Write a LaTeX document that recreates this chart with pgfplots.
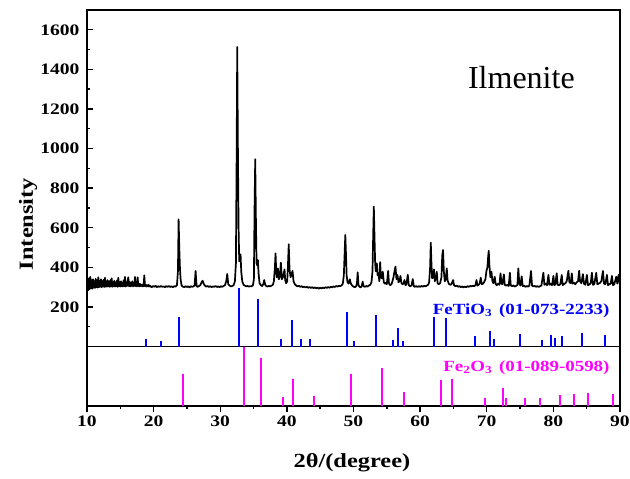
\documentclass[border=0pt]{standalone}
\usepackage{fontspec}
\setmainfont{Liberation Serif}
\newfontfamily\wide{Liberation Serif}[FakeStretch=1.22]
\usepackage{pgfplots}
\pgfplotsset{compat=1.18}
\definecolor{refblue}{RGB}{0,0,255}
\definecolor{refmag}{RGB}{255,0,255}
\begin{document}
\begin{tikzpicture}
\useasboundingbox (-87pt,-73pt) rectangle (543pt,406pt);
\pgfplotsset{
  common/.style={
    scale only axis, width=533pt, xmin=10, xmax=90,
    axis line style={line width=1.5pt},
    every tick/.style={line width=1.4pt, black},
    major tick length=6.5pt, minor tick length=3.5pt,
    /pgf/number format/assume math mode=true,
    /pgf/number format/1000 sep={},
    tick label style={font=\wide\bfseries\fontsize{16}{18}\selectfont},
    label style={font=\wide\bfseries\fontsize{20}{22}\selectfont},
    clip=true,
  }
}
% lower panel: Fe2O3
\begin{axis}[common, name=low, at={(0pt,0pt)}, anchor=south west,
  height=59.4pt, ymin=0, ymax=300,
  xtick={10,20,...,90}, minor xtick={15,25,...,85},
  ytick=\empty, minor ytick={100,200},
  xtick pos=bottom, ytick pos=left,
  xtick align=outside, ytick align=inside,
  xlabel={2θ/(degree)},
  xlabel style={at={(axis description cs:0.497,-0.96)}, anchor=center},
]
\addplot[ycomb, refmag, line width=2pt, mark=none] coordinates {
(24.36,162)(33.50,300)(36.06,244)(39.38,45)(40.89,136)(44.05,49)(49.62,162)
(54.29,190)(57.65,72)(63.08,131)(64.74,136)(69.81,39)(72.42,89)(72.88,39)
(75.80,39)(78.00,39)(80.92,56)(83.03,59)(85.13,64)(88.90,59)};
\node[anchor=base east, text=refmag, font=\wide\bfseries\fontsize{15.5}{17}\selectfont] at (axis cs:88.95,173) {Fe\textsubscript{2}O\textsubscript{3}\hspace{0.45em}(01-089-0598)};
\end{axis}
% upper panel
\begin{axis}[common, name=up, at={(0pt,59.4pt)}, anchor=south west,
  height=336.6pt, ymin=0, ymax=1700,
  xtick=\empty,
  ytick={200,400,...,1600}, minor ytick={100,300,...,1500},
  ytick pos=left, ytick align=inside,
  yticklabel style={xshift=-4pt},
  ylabel={Intensity},
  ylabel style={at={(axis description cs:-0.1107,0.364)}, anchor=center},
]
\addplot[ycomb, refblue, line width=2pt, mark=none] coordinates {
(18.84,37)(21.15,28)(23.86,151)(32.75,297)(35.61,239)(39.12,37)(40.84,136)
(42.13,37)(43.49,37)(49.02,175)(50.03,28)(53.43,160)(55.91,33)(56.75,95)
(57.50,28)(62.08,151)(63.83,144)(68.30,54)(70.52,79)(71.12,37)(74.98,62)
(78.30,33)(79.65,58)(80.25,45)(81.31,54)(84.28,67)(87.70,58)};
\addplot[black, line width=1.7pt, mark=none, line join=round] coordinates {
(10.0,272)(10.1,330)(10.2,285)(10.3,345)(10.4,290)(10.5,352)(10.6,295)(10.7,335)(10.8,292)(10.9,340)
(11.0,298)(11.1,330)(11.2,296)(11.3,342)(11.4,300)(11.5,335)(11.6,298)(11.7,350)(11.8,300)(11.9,332)
(12.0,302)(12.1,340)(12.2,300)(12.3,330)(12.4,303)(12.5,338)(12.6,301)(12.7,348)(12.8,303)(12.9,330)
(13.0,302)(13.1,336)(13.2,305)(13.3,328)(13.4,302)(13.5,335)(13.6,304)(13.7,345)(13.8,302)(13.9,328)
(14.0,305)(14.1,332)(14.2,303)(14.3,325)(14.4,305)(14.5,334)(14.6,302)(14.7,348)(14.8,305)(14.9,326)
(15.0,303)(15.1,330)(15.2,305)(15.3,322)(15.4,303)(15.5,335)(15.6,305)(15.7,352)(15.8,303)(15.9,325)
(16.0,306)(16.1,330)(16.2,350)(16.3,305)(16.4,328)(16.5,304)(16.6,322)(16.7,306)(16.8,330)(16.9,304)
(17.0,320)(17.1,306)(17.2,352)(17.3,305)(17.4,325)(17.5,304)(17.6,350)(17.7,306)(17.8,318)(17.9,304)
(18.0,316)(18.1,306)(18.2,312)(18.3,304)(18.4,314)(18.5,305)(18.6,360)(18.7,306)(18.8,312)(18.9,303)
(19.0,310)(19.1,305)(19.2,312)(19.3,303)(19.4,309)(19.5,305)
(19.7,300)(19.9,306)(20.1,302)(20.3,307)(20.5,300)(20.7,305)(20.9,301)(21.1,306)(21.3,302)(21.5,304)
(21.7,300)(21.9,305)(22.1,302)(22.3,306)(22.5,301)(22.7,304)(22.9,300)(23.1,305)(23.3,303)(23.5,310)
(23.65,380)(23.75,643)(23.85,500)(23.95,397)(24.05,340)(24.2,308)(24.4,303)(24.6,300)(24.8,305)
(25.0,301)(25.2,304)(25.4,299)(25.6,305)(25.8,302)(26.0,304)(26.15,310)(26.3,382)(26.45,305)(26.6,302)
(26.8,306)(27.0,310)(27.2,325)(27.35,333)(27.5,318)(27.7,308)(27.9,303)(28.1,306)(28.3,301)(28.5,305)
(28.7,300)(28.9,304)(29.1,302)(29.3,306)(29.5,301)(29.7,304)(29.9,300)(30.1,305)(30.3,302)(30.5,306)
(30.7,310)(30.9,330)(31.05,367)(31.2,315)(31.4,308)(31.6,304)(31.8,306)(32.0,310)(32.2,330)(32.35,420)
(32.45,900)(32.55,1513)(32.65,1000)(32.75,600)(32.85,430)(32.95,440)(33.05,466)(33.15,380)(33.3,330)
(33.5,312)(33.7,308)(33.9,304)(34.1,306)(34.3,303)(34.5,305)(34.7,304)(34.9,310)(35.05,340)(35.15,700)
(35.25,946)(35.35,650)(35.45,420)(35.55,410)(35.65,437)(35.75,370)(35.9,320)(36.1,310)(36.3,306)
(36.45,315)(36.6,336)(36.75,312)(36.9,306)(37.1,303)(37.3,307)(37.5,304)(37.7,308)(37.9,312)(38.05,330)
(38.2,400)(38.3,471)(38.4,380)(38.5,350)(38.65,395)(38.8,340)(38.95,355)(39.1,424)(39.25,340)(39.4,350)
(39.55,372)(39.65,390)(39.75,335)(39.9,320)(40.05,330)(40.15,400)(40.28,517)(40.4,390)(40.55,350)
(40.7,365)(40.85,382)(41.0,330)(41.2,315)(41.4,308)(41.6,304)(41.8,307)(42.0,302)(42.2,305)(42.4,300)
(42.6,303)(42.8,299)(43.0,302)(43.2,297)(43.4,301)(43.6,296)(43.8,300)(44.0,295)(44.2,299)(44.4,294)
(44.6,298)(44.8,293)(45.0,297)(45.2,294)(45.4,298)(45.6,295)(45.8,300)(46.0,296)(46.2,301)(46.4,297)
(46.6,302)(46.8,299)(47.0,304)(47.2,301)(47.4,306)(47.6,303)(47.8,307)(48.0,305)(48.2,309)(48.4,318)
(48.55,360)(48.68,480)(48.77,564)(48.87,470)(48.97,360)(49.1,325)(49.25,318)(49.45,340)(49.6,318)
(49.8,308)(50.0,303)(50.2,300)(50.4,305)(50.52,320)(50.63,375)(50.75,310)(50.9,302)(51.1,299)(51.25,308)
(51.38,328)(51.5,305)(51.7,302)(51.9,306)(52.1,303)(52.3,308)(52.5,312)(52.7,325)(52.85,380)(52.95,550)
(53.05,707)(53.15,560)(53.25,420)(53.35,380)(53.5,421)(53.62,360)(53.75,370)(53.88,330)(54.0,427)
(54.12,350)(54.25,345)(54.4,378)(54.55,325)(54.7,318)(54.85,322)(55.0,315)(55.2,382)(55.32,320)
(55.5,310)(55.7,315)(55.85,330)(56.0,350)(56.15,380)(56.3,404)(56.45,340)(56.6,362)(56.75,325)(56.9,330)
(57.05,357)(57.2,320)(57.35,315)(57.5,318)(57.65,336)(57.8,310)(57.95,315)(58.15,363)(58.3,310)
(58.5,305)(58.7,308)(58.9,341)(59.05,305)(59.2,302)(59.4,306)(59.6,301)(59.8,305)(60.0,302)(60.2,306)
(60.4,303)(60.6,307)(60.8,304)(61.0,308)(61.2,312)(61.35,325)(61.5,400)(61.6,525)(61.7,420)(61.8,345)
(61.95,350)(62.08,390)(62.2,330)(62.35,340)(62.5,378)(62.62,320)(62.8,315)(63.0,320)(63.2,350)
(63.32,460)(63.44,488)(63.56,380)(63.7,330)(63.85,340)(64.0,395)(64.12,335)(64.3,318)(64.5,312)
(64.7,315)(64.95,336)(65.1,310)(65.3,305)(65.5,308)(65.7,302)(65.9,306)(66.1,300)(66.3,304)(66.5,299)
(66.7,303)(66.9,300)(67.1,305)(67.3,302)(67.5,306)(67.7,304)(67.9,308)(68.1,305)(68.3,310)(68.46,336)
(68.6,308)(68.8,312)(68.95,320)(69.1,348)(69.25,315)(69.45,318)(69.6,325)(69.8,340)(69.96,383)
(70.1,400)(70.2,450)(70.3,484)(70.4,410)(70.55,350)(70.71,378)(70.85,330)(71.0,320)(71.2,353)
(71.35,315)(71.5,310)(71.7,318)(71.9,312)(72.07,370)(72.2,320)(72.35,315)(72.57,365)(72.7,312)
(72.9,308)(73.1,312)(73.3,306)(73.47,373)(73.6,310)(73.8,305)(74.0,309)(74.2,303)(74.4,307)(74.6,310)
(74.74,395)(74.88,320)(75.05,308)(75.24,355)(75.4,305)(75.6,308)(75.8,302)(76.0,306)(76.2,303)
(76.4,308)(76.64,382)(76.8,308)(77.0,304)(77.2,307)(77.4,302)(77.6,306)(77.8,301)(78.0,305)(78.2,308)
(78.5,373)(78.65,312)(78.85,318)(79.05,310)(79.26,362)(79.4,312)(79.6,318)(79.8,310)(80.01,357)
(80.15,310)(80.3,315)(80.5,370)(80.65,312)(80.85,310)(81.05,316)(81.26,362)(81.4,310)(81.6,316)
(81.8,320)(82.0,330)(82.26,383)(82.4,325)(82.6,320)(82.77,370)(82.9,318)(83.1,322)(83.3,315)(83.5,325)
(83.7,330)(83.87,383)(84.0,330)(84.2,320)(84.43,366)(84.6,318)(84.8,312)(85.03,362)(85.2,310)(85.4,314)
(85.6,320)(85.78,373)(85.95,312)(86.15,316)(86.43,373)(86.6,315)(86.8,318)(87.0,322)(87.2,330)
(87.44,382)(87.6,318)(87.8,315)(88.04,362)(88.2,310)(88.4,315)(88.6,318)(88.79,357)(88.95,310)
(89.15,316)(89.44,353)(89.6,318)(89.8,362)(90.0,312)};
\node[anchor=base, font=\fontsize{32}{34}\selectfont] at (axis cs:75.2,1305) {Ilmenite};
\node[anchor=base east, text=refblue, font=\wide\bfseries\fontsize{15.5}{17}\selectfont] at (axis cs:88.95,163) {FeTiO\textsubscript{3}\hspace{0.45em}(01-073-2233)};
\end{axis}
\end{tikzpicture}
\end{document}
